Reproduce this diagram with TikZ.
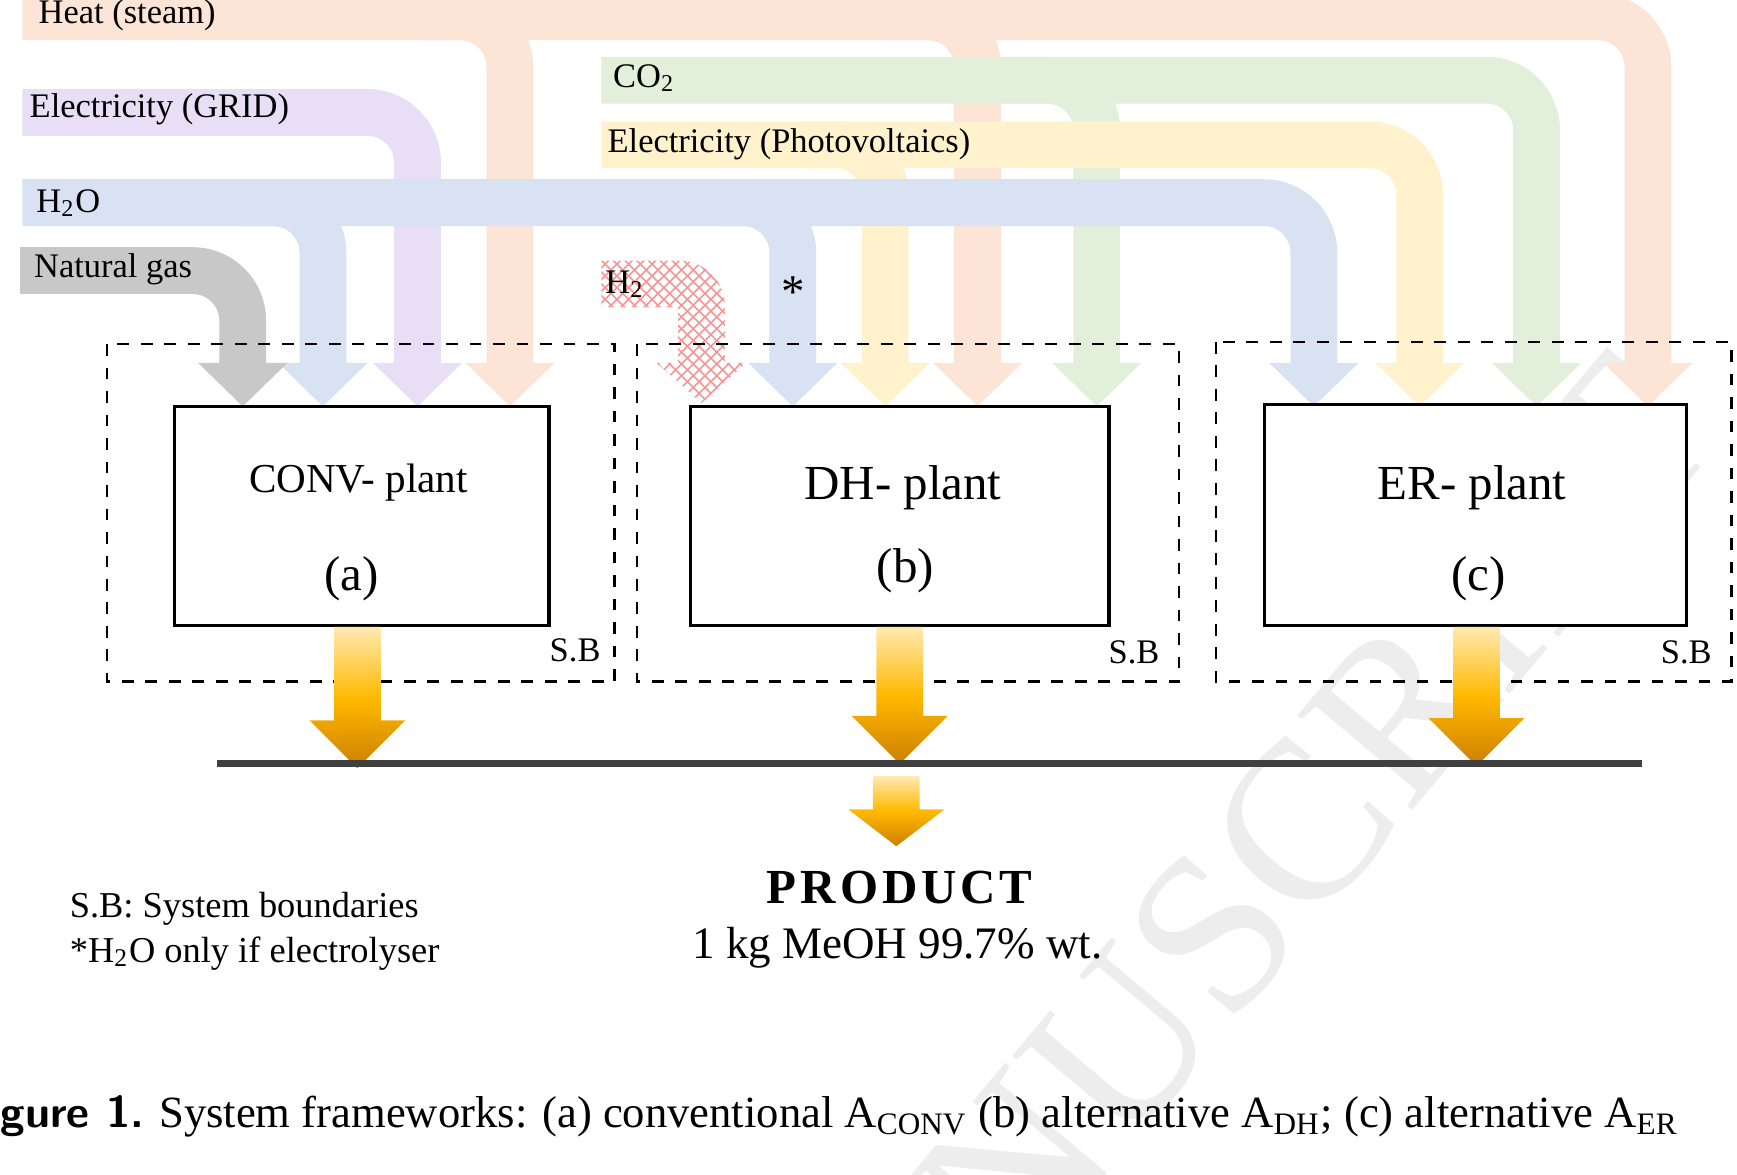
\documentclass[tikz,border=0pt]{standalone}
\usepackage{fontspec}
\setmainfont{Liberation Serif}
\usetikzlibrary{patterns}
\definecolor{heat}{RGB}{252,228,214}
\definecolor{grid}{RGB}{232,222,245}
\definecolor{water}{RGB}{216,226,243}
\definecolor{ng}{RGB}{200,200,200}
\definecolor{cot}{RGB}{226,239,218}
\definecolor{pv}{RGB}{255,242,204}
\definecolor{hy}{RGB}{235,80,80}
\begin{document}
\begin{tikzpicture}[x=0.01cm,y=-0.01cm,
  band/.style={line width=0.42cm,rounded corners=0.45cm,#1},
  lab/.style={anchor=west,font=\fontsize{8.8}{10}\selectfont,inner sep=0},
  box/.style={draw,line width=0.8pt,fill=white},
  sb/.style={draw,dashed,line width=0.6pt},
  gold/.style={top color=yellow!45!orange!30,bottom color=black!25!orange!80!yellow,middle color=orange!55!yellow}]
\useasboundingbox (0,0) rectangle (1560,1055);
\newcommand{\ahd}[2]{\fill[#2] (#1-40,326)--(#1+40,326)--(#1,365)--cycle;}
% watermark
\node[rotate=50,text=black!7,font=\fontsize{58}{58}\selectfont] (wm) at (1180,730) {NUSCRIPT};
% heat
\draw[band=heat] (20,15) -- (1480,15) -- (1480,327);
\draw[band=heat] (380,15) -- (458,15) -- (458,327);
\draw[band=heat] (800,15) -- (878,15) -- (878,327);
\ahd{458}{heat}\ahd{878}{heat}\ahd{1480}{heat}
% CO2
\draw[band=cot] (540,72) -- (1380,72) -- (1380,327);
\draw[band=cot] (900,72) -- (985,72) -- (985,327);
\ahd{985}{cot}\ahd{1380}{cot}
% PV
\draw[band=pv] (540,130) -- (1275,130) -- (1275,327);
\draw[band=pv] (720,130) -- (795,130) -- (795,327);
\ahd{795}{pv}\ahd{1275}{pv}
% grid
\draw[band=grid] (20,101) -- (375,101) -- (375,327);
\ahd{375}{grid}
% water
\draw[band=water] (20,182) -- (1180,182) -- (1180,327);
\draw[band=water] (210,182) -- (290,182) -- (290,327);
\draw[band=water] (640,182) -- (712,182) -- (712,327);
\ahd{290}{water}\ahd{712}{water}\ahd{1180}{water}
% NG
\draw[band=ng] (18,243) -- (218,243) -- (218,327);
\ahd{218}{ng}
% H2
\fill[pattern=crosshatch,pattern color=hy!60] (540,234) -- (610,234) arc[start angle=-90,end angle=0,radius=41] -- (651,326) -- (609,326) -- (609,276) -- (540,276) -- cycle;
\fill[pattern=crosshatch,pattern color=hy!60] (590,326)--(670,326)--(630,362)--cycle;
% labels
\node[lab] (l1) at (34,14) {Heat (steam)};
\node[lab] (l2) at (26,98) {Electricity (GRID)};
\node[lab] (l3) at (32,182) {H\textsubscript{2}O};
\node[lab] (l4) at (30,242) {Natural gas};
\node[lab] (l5) at (550,70) {CO\textsubscript{2}};
\node[lab] (l6) at (545,130) {Electricity (Photovoltaics)};
\node[lab] (l7) at (543,255) {H\textsubscript{2}};
\node[font=\fontsize{12}{12}\selectfont] (st) at (712,262) {*};
% boundaries
\draw[sb] (96,309) rectangle (552,612);
\draw[sb] (572,309) rectangle (1059,612);
\draw[sb] (1092,307) rectangle (1555,612);
\node[lab,anchor=south east] (s1) at (540,595) {S.B};
\node[lab,anchor=south east] (s2) at (1042,597) {S.B};
\node[lab,anchor=south east] (s3) at (1538,597) {S.B};
% boxes
\draw[box] (157,365) rectangle (493,562);
\draw[box] (620,365) rectangle (996,562);
\draw[box] (1136,363) rectangle (1515,562);
\node[font=\fontsize{10.5}{12}\selectfont] (a1) at (322,433) {CONV- plant};
\node[font=\fontsize{12.5}{14}\selectfont] (a2) at (316,520) {(a)};
\node[font=\fontsize{12.5}{14}\selectfont] (b1) at (811,438) {DH- plant};
\node[font=\fontsize{12.5}{14}\selectfont] (b2) at (813,513) {(b)};
\node[font=\fontsize{12.5}{14}\selectfont] (c1) at (1322,438) {ER- plant};
\node[font=\fontsize{12.5}{14}\selectfont] (c2) at (1328,520) {(c)};
% gold arrows
\newcommand{\garrow}[4]{\shade[gold] (#1-21,#2)--(#1+21,#2)--(#1+21,#3)--(#1+43,#3)--(#1,#4)--(#1-43,#3)--(#1-21,#3)--cycle;}
\garrow{321}{563}{647}{690}
\garrow{808}{563}{643}{686}
\garrow{1326}{563}{645}{688}
\draw[line width=1.8pt,black!75] (195,686) -- (1475,686);
\garrow{805}{697}{727}{760}
\node[font=\bfseries\fontsize{12.5}{14}\selectfont] (p1) at (808,797) {P\kern1ptR\kern1ptO\kern1ptD\kern1ptU\kern1ptC\kern1ptT};
\node[font=\fontsize{11.5}{14}\selectfont] (p2) at (806,851) {1 kg MeOH 99.7\% wt.};
\node[lab,font=\fontsize{9.3}{11}\selectfont] (g1) at (62,816) {S.B: System boundaries};
\node[lab,font=\fontsize{9.3}{11}\selectfont] (g2) at (62,856) {*H\textsubscript{2}O only if electrolyser};
\node[lab,font=\fontsize{11.4}{13}\selectfont] (cap) at (0,1003) {{\sffamily\bfseries gure 1.} System frameworks: (a) conventional A\textsubscript{CONV} (b) alternative A\textsubscript{DH}; (c) alternative A\textsubscript{ER}};
\end{tikzpicture}
\end{document}
